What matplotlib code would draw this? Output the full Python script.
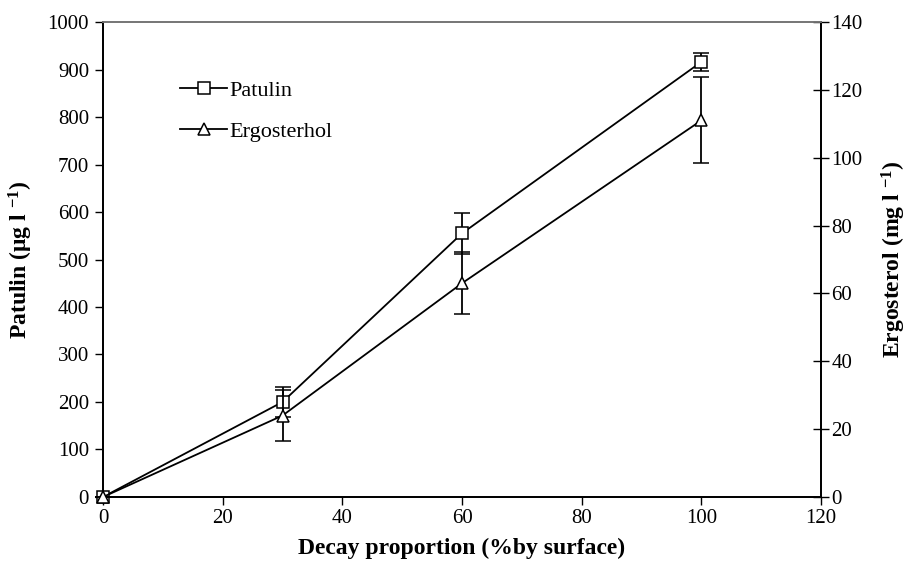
import numpy as np
import matplotlib
matplotlib.use("Agg")
import matplotlib.pyplot as plt
from matplotlib.lines import Line2D

plt.rcParams['font.family'] = ['Liberation Serif', 'DejaVu Serif']
plt.rcParams['mathtext.fontset'] = 'custom'
plt.rcParams['mathtext.rm'] = 'Liberation Serif'
plt.rcParams['mathtext.bf'] = 'Liberation Serif:bold'
plt.rcParams['mathtext.it'] = 'Liberation Serif:italic'

# decay proportion (% by surface)
decay = [0, 30, 60, 100]
# patulin (ug/l) with error
patulin = [0, 200, 555, 916]
patulin_err = [0, 31, 43, 19]
# ergosterol (mg/l) with error
ergosterol = [0, 24, 63, 111]
ergosterol_err = [0, 7.4, 9.2, 12.7]

x_ticks = [0, 20, 40, 60, 80, 100, 120]
left_ticks = [0, 100, 200, 300, 400, 500, 600, 700, 800, 900, 1000]
right_ticks = [0, 20, 40, 60, 80, 100, 120, 140]

fig = plt.figure(figsize=(9.1, 5.65), dpi=100)
ax = fig.add_axes([0.1132, 0.1204, 0.789, 0.8406])
ax2 = ax.twinx()

ax.errorbar(decay, patulin, yerr=patulin_err, color='black', lw=1.3,
            marker='s', ms=8, mfc='white', mec='black', mew=1.1,
            capsize=6, elinewidth=1.3, capthick=1.3, zorder=3, clip_on=False)
ax2.errorbar(decay, ergosterol, yerr=ergosterol_err, color='black', lw=1.3,
             marker='^', ms=9, mfc='white', mec='black', mew=1.1,
             capsize=6, elinewidth=1.3, capthick=1.3, zorder=3, clip_on=False)

ax.set_xlim(0, 120)
ax.set_ylim(0, 1000)
ax2.set_ylim(0, 140)
ax.set_xticks(x_ticks)
ax.set_yticks(left_ticks)
ax2.set_yticks(right_ticks)

for a in (ax, ax2):
    a.tick_params(labelsize=15, width=1, length=6)
    a.spines['top'].set_color('#777777')
    a.spines['top'].set_linewidth(1.3)
    for s in ('left', 'right', 'bottom'):
        a.spines[s].set_linewidth(1.3)
ax.tick_params(axis='x', direction='out', pad=3)
ax.tick_params(axis='y', direction='out', pad=4)
ax2.tick_params(axis='y', direction='inout', length=11, pad=2)

ax.set_xlabel('Decay proportion (%by surface)', fontsize=17, fontweight='bold', labelpad=7)
ax.set_ylabel(r'Patulin ($\mathbf{\mu}$g l $^{\mathbf{-1}}$)', fontsize=17, fontweight='bold', labelpad=9)
ax2.set_ylabel(r'Ergosterol (mg l $^{\mathbf{-1}}$)', fontsize=17, fontweight='bold', labelpad=12)

h1 = Line2D([], [], color='black', lw=1.3, marker='s', ms=8, mfc='white', mec='black', mew=1.1)
h2 = Line2D([], [], color='black', lw=1.3, marker='^', ms=9, mfc='white', mec='black', mew=1.1)
ax.legend([h1, h2], ['Patulin', 'Ergosterhol'], loc='upper left',
          bbox_to_anchor=(0.08, 0.92), frameon=False, fontsize=16,
          handlelength=2.1, labelspacing=0.95, handletextpad=0.1)

fig.savefig('out.png', dpi=100)
